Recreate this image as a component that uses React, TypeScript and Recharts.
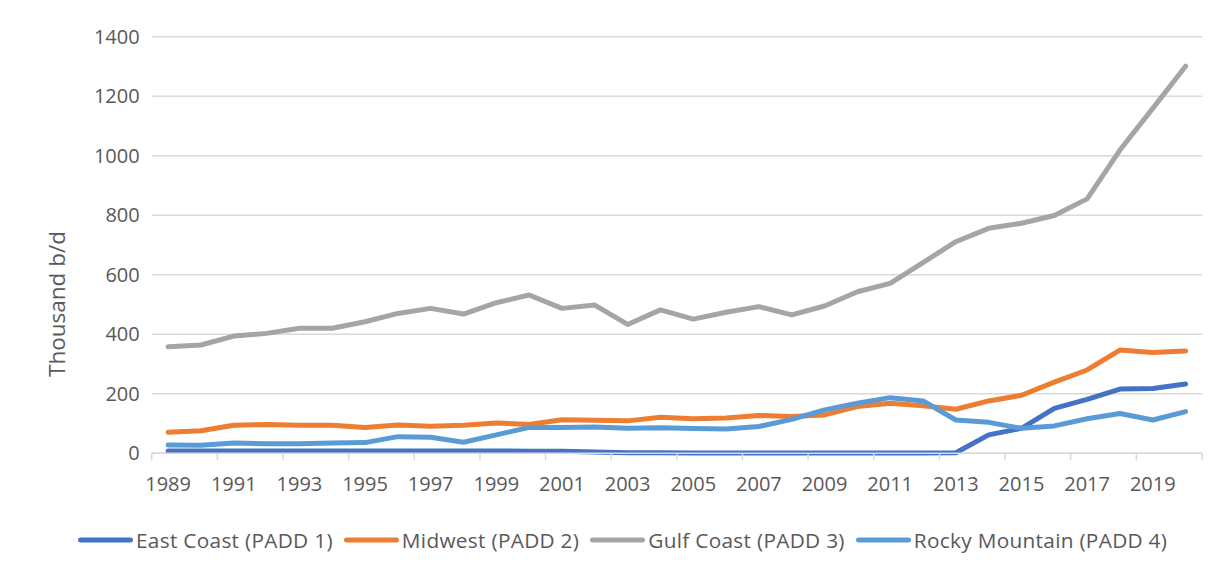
import React from 'react';
import { LineChart, Line, XAxis, YAxis, CartesianGrid } from 'recharts';

const years = [
  1989, 1990, 1991, 1992, 1993, 1994, 1995, 1996, 1997, 1998, 1999, 2000, 2001, 2002, 2003, 2004,
  2005, 2006, 2007, 2008, 2009, 2010, 2011, 2012, 2013, 2014, 2015, 2016, 2017, 2018, 2019, 2020,
];
const eastCoast = [
  8, 8, 8, 8, 8, 8, 8, 8, 8, 8, 8, 7, 7, 4, 2, 2,
  1, 1, 1, 1, 1, 1, 1, 1, 2, 62, 84, 151, 181, 216, 218, 233,
];
const midwest = [
  71, 76, 94, 97, 94, 94, 87, 95, 91, 94, 102, 97, 113, 111, 109, 121,
  116, 119, 127, 124, 129, 157, 168, 160, 148, 176, 195, 239, 280, 347, 339, 344,
];
const gulfCoast = [
  358, 364, 394, 403, 420, 420, 442, 470, 487, 468, 506, 532, 487, 498, 433, 482,
  451, 474, 493, 465, 495, 543, 571, 641, 711, 756, 773, 799, 855, 1019, 1159, 1301,
];
const rockyMountain = [
  28, 27, 35, 32, 32, 35, 36, 56, 54, 37, 62, 87, 87, 88, 84, 86,
  83, 82, 90, 114, 146, 168, 187, 176, 112, 104, 84, 92, 116, 134, 112, 140,
];
const yTicks = [0, 200, 400, 600, 800, 1000, 1200, 1400];

const seriesDefs = [
  { key: 'east', name: 'East Coast (PADD 1)', color: '#4472C4', values: eastCoast },
  { key: 'midwest', name: 'Midwest (PADD 2)', color: '#ED7D31', values: midwest },
  { key: 'gulf', name: 'Gulf Coast (PADD 3)', color: '#A5A5A5', values: gulfCoast },
  { key: 'rocky', name: 'Rocky Mountain (PADD 4)', color: '#5B9BD5', values: rockyMountain },
];

const data = years.map((y, i) => {
  const row: any = { year: y };
  seriesDefs.forEach((s) => {
    row[s.key] = s.values[i];
  });
  return row;
});

const W = 1223;
const CH = 500;
const MARGIN = { top: 36.7, right: 21, left: 91.7, bottom: 16.7 };
const YAXIS_W = 60;
const PLOT_W = W - MARGIN.right - MARGIN.left - YAXIS_W;
const HALF = PLOT_W / years.length / 2;
const FONT = '"Open Sans", "Liberation Sans", sans-serif';
const TEXT_COLOR = '#595959';
const GRID = '#d9d9d9';

const XTick = (props: any) => {
  const { x, y, payload } = props;
  const i = years.indexOf(payload.value);
  const last = i === years.length - 1;
  return (
    <g>
      {i % 2 === 0 && (
        <>
          <line x1={x - HALF} x2={x - HALF} y1={y} y2={y + 7} stroke={GRID} strokeWidth={1.5} />
          <text
            x={x}
            y={y + 23.7}
            dy="0.71em"
            textAnchor="middle"
            fill={TEXT_COLOR}
            fontSize={20}
            fontFamily={FONT}
          >
            {payload.value}
          </text>
        </>
      )}
      {last && <line x1={x + HALF} x2={x + HALF} y1={y} y2={y + 7} stroke={GRID} strokeWidth={1.5} />}
    </g>
  );
};

export default function App() {
  return (
    <div
      style={{
        position: 'relative',
        width: W,
        height: 571,
        margin: -8,
        overflow: 'hidden',
        background: '#fff',
        fontFamily: FONT,
      }}
    >
      <div
        style={{
          position: 'absolute',
          left: 7,
          top: 7,
          width: 1400,
          height: 800,
          border: `1px solid ${GRID}`,
          boxSizing: 'border-box',
        }}
      />
      <svg style={{ position: 'absolute', left: 0, top: 0 }} width={W} height={12}>
        <text
          x={652}
          y={2.2}
          textAnchor="middle"
          fontSize={19}
          fontStyle="italic"
          fill="#44546A"
          fontFamily={FONT}
          textLength={612}
          lengthAdjust="spacingAndGlyphs"
        >
          Refinery and plant production of ethane by PADD, thousand b/d, (US)
        </text>
      </svg>
      <div style={{ position: 'absolute', left: 0, top: 0 }}>
        <LineChart width={W} height={CH} data={data} margin={MARGIN}>
          <CartesianGrid vertical={false} stroke={GRID} strokeWidth={1.5} />
          <XAxis
            dataKey="year"
            type="category"
            interval={0}
            padding={{ left: HALF, right: HALF }}
            axisLine={{ stroke: GRID, strokeWidth: 1.5 }}
            tickLine={false}
            tickSize={0}
            tickMargin={0}
            height={30}
            tick={<XTick />}
          />
          <YAxis
            domain={[0, 1400]}
            ticks={yTicks}
            interval={0}
            width={YAXIS_W}
            axisLine={false}
            tickLine={false}
            tickSize={0}
            tickMargin={12}
            tick={{ fill: TEXT_COLOR, fontSize: 20, fontFamily: FONT }}
          />
          {seriesDefs.map((s) => (
            <Line
              key={s.key}
              type="linear"
              dataKey={s.key}
              name={s.name}
              stroke={s.color}
              strokeWidth={5}
              strokeLinecap="round"
              strokeLinejoin="round"
              dot={false}
              activeDot={false}
              isAnimationActive={false}
            />
          ))}
        </LineChart>
      </div>
      <div
        style={{
          position: 'absolute',
          left: 57,
          top: 304,
          transform: 'translate(-50%, -50%) rotate(-90deg)',
          whiteSpace: 'nowrap',
          fontSize: 22.5,
          lineHeight: 1,
          color: TEXT_COLOR,
        }}
      >
        Thousand b/d
      </div>
      <div
        style={{
          position: 'absolute',
          left: 78,
          top: 540,
          transform: 'translateY(-50%)',
          display: 'flex',
          alignItems: 'center',
          whiteSpace: 'nowrap',
          fontSize: 20.8,
          letterSpacing: 0.3,
          lineHeight: 1,
          color: TEXT_COLOR,
        }}
      >
        {seriesDefs.map((s) => (
          <div key={s.key} style={{ display: 'flex', alignItems: 'center', marginRight: 11 }}>
            <div
              style={{
                width: 55,
                height: 5,
                borderRadius: 3,
                background: s.color,
                marginRight: 3,
              }}
            />
            <span>{s.name}</span>
          </div>
        ))}
      </div>
    </div>
  );
}
